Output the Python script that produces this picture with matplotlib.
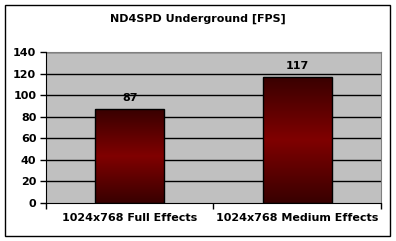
import matplotlib.pyplot as plt
import numpy as np
from matplotlib.colors import LinearSegmentedColormap
from matplotlib.patches import Rectangle

title = "ND4SPD Underground [FPS]"
categories = ["1024x768 Full Effects", "1024x768 Medium Effects"]
fps = [87, 117]
y_ticks = [0, 20, 40, 60, 80, 100, 120, 140]

W, H = 396, 241
fig = plt.figure(figsize=(W / 100, H / 100), dpi=100)
fig.patch.set_facecolor("white")

# outer chart frame
fig.add_artist(Rectangle((5 / W, 5 / H), 385 / W, 231 / H, transform=fig.transFigure,
                         fill=False, edgecolor="black", linewidth=1.0))

ax = fig.add_axes([46 / W, (H - 203) / H, 335 / W, 151 / H])
ax.set_facecolor("#c0c0c0")

# gradient: dark top/bottom, red in the middle
cmap = LinearSegmentedColormap.from_list("bar", ["#380000", "#800000", "#380000"])
grad = np.linspace(0, 1, 256).reshape(-1, 1)

x = np.arange(len(categories)) + 0.5
width = 0.41
for xi, v in zip(x, fps):
    rect = Rectangle((xi - width / 2, 0), width, v, facecolor="none",
                     edgecolor="black", linewidth=1.0, zorder=4)
    ax.add_patch(rect)
    im = ax.imshow(grad, cmap=cmap, aspect="auto", zorder=3,
                   extent=(xi - width / 2, xi + width / 2, 0, v), origin="lower")
    im.set_clip_path(rect)
    ax.text(xi, v + 10, str(v), ha="center", va="center", fontsize=8,
            fontweight="bold", zorder=5)

ax.set_xlim(0, 2)
ax.set_ylim(0, 140)

for t in y_ticks[1:]:
    ax.axhline(t, color="black", linewidth=1.0, zorder=1)

ax.set_yticks(y_ticks)
ax.set_yticklabels([str(t) for t in y_ticks], fontsize=8, fontweight="bold")
ax.set_xticks([0, 1, 2])
ax.set_xticklabels([])
ax.set_xticks(x, minor=True)
ax.set_xticklabels(categories, minor=True, fontsize=8, fontweight="bold")
ax.tick_params(axis="x", which="minor", length=0, pad=7)
ax.tick_params(axis="x", which="major", length=4, direction="out", width=1)
ax.tick_params(axis="y", length=4, direction="out", width=1, pad=3)

for side in ["top", "right"]:
    ax.spines[side].set_color("#808080")
for side in ["left", "bottom"]:
    ax.spines[side].set_color("black")
    ax.spines[side].set_zorder(6)

fig.text(0.5, 1 - 19 / H, title, ha="center", va="center", fontsize=8, fontweight="bold")

fig.savefig("out.png", dpi=100)
